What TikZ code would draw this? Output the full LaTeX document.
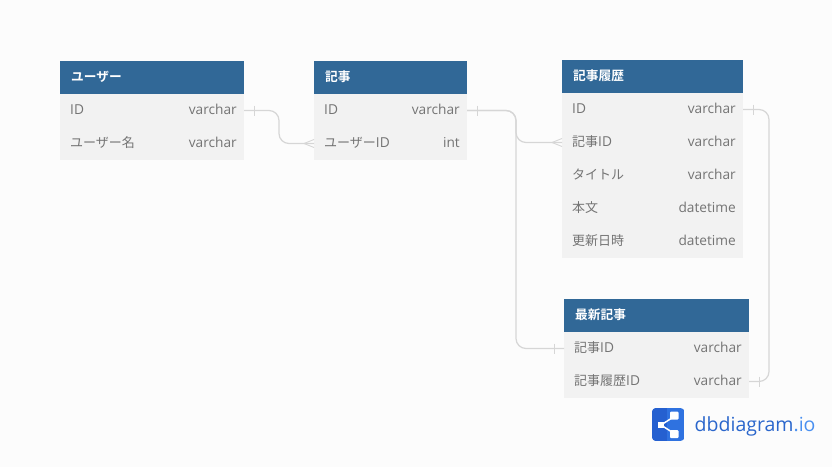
\documentclass[tikz,border=0pt]{standalone}
\usepackage{fontspec}
\setmainfont{Open Sans}
\newfontfamily\cjk{Noto Sans CJK JP}
\newfontfamily\cjkb{Noto Sans CJK JP}[BoldFont={Noto Sans CJK JP Bold}]
\usetikzlibrary{calc}
\definecolor{pagebg}{HTML}{FCFCFC}
\definecolor{headblue}{HTML}{316897}
\definecolor{rowgrey}{HTML}{F2F2F2}
\definecolor{txtgrey}{HTML}{747474}
\definecolor{linkgrey}{HTML}{D6D6D6}
\definecolor{logoA}{HTML}{2560D0}
\definecolor{logoB}{HTML}{2F72E0}
\definecolor{logotxt}{HTML}{2A66CC}
\definecolor{logotxtB}{HTML}{4A90F0}
\tikzset{
  headbox/.style={fill=headblue,anchor=north west,minimum height=33pt,inner sep=0pt,outer sep=0pt},
  rowbox/.style={fill=rowgrey,anchor=north west,minimum height=33pt,inner sep=0pt,outer sep=0pt},
  headtxt/.style={text=white,anchor=west,inner sep=0pt,font=\fontsize{12.7}{14}\selectfont\cjkb\bfseries},
  lefttxt/.style={text=txtgrey,anchor=west,inner sep=0pt,font=\fontsize{13.7}{15}\selectfont},
  righttxt/.style={text=txtgrey,anchor=east,inner sep=0pt,font=\fontsize{13.7}{15}\selectfont},
  link/.style={draw=linkgrey,line width=1.2pt,rounded corners=10pt},
  tick/.style={draw=linkgrey,line width=0.9pt},
}
\newcommand{\J}[1]{{\fontsize{13}{15}\selectfont\cjk #1}}
% name, x, y(top), width, text
\newcommand{\headT}[5]{%
  \node[headbox,minimum width=#4 pt] (#1) at (#2,#3) {};
  \node[headtxt] (#1t) at ($(#1.west)+(11,-1)$) {#5};}
% name, x, y(top), width, left, right
\newcommand{\rowT}[6]{%
  \node[rowbox,minimum width=#4 pt] (#1) at (#2,#3) {};
  \node[lefttxt] (#1l) at ($(#1.west)+(10,-1)$) {#5};
  \node[righttxt] (#1r) at ($(#1.east)+(-7,-1)$) {#6};}
\begin{document}
\begin{tikzpicture}[x=1pt,y=-1pt]
\useasboundingbox[fill=pagebg] (0,0) rectangle (832,467);
% users
\headT{u}{60}{61}{184}{ユーザー}
\rowT{uid}{60}{94}{184}{ID}{varchar}
\rowT{uname}{60}{127}{184}{\J{ユーザー名}}{varchar}
% posts
\headT{p}{314}{61}{153}{記事}
\rowT{pid}{314}{94}{153}{ID}{varchar}
\rowT{puser}{314}{127}{153}{\J{ユーザー}ID}{int}
% history
\headT{h}{562}{60}{181}{記事履歴}
\rowT{hid}{562}{93}{181}{ID}{varchar}
\rowT{hpost}{562}{126}{181}{\J{記事}ID}{varchar}
\rowT{htitle}{562}{159}{181}{\J{タイトル}}{varchar}
\rowT{hbody}{562}{192}{181}{\J{本文}}{datetime}
\rowT{hdate}{562}{225}{181}{\J{更新日時}}{datetime}
% latest
\headT{l}{564}{299}{185}{最新記事}
\rowT{lpost}{564}{332}{185}{\J{記事}ID}{varchar}
\rowT{lhist}{564}{365}{185}{\J{記事履歴}ID}{varchar}
% connectors
\coordinate (c1) at (279,0);
\coordinate (c2) at (516,0);
\coordinate (c3) at (769,0);
\draw[link] (uid.east) -| (c1 |- puser.west) -- (puser.west);
\draw[link] (pid.east) -| (c2 |- hpost.west) -- (hpost.west);
\draw[link] (pid.east) -| (c2 |- lpost.west) -- (lpost.west);
\draw[link] (hid.east) -| (c3 |- lhist.east) -- (lhist.east);
% one-side ticks
\foreach \n/\d in {uid.east/10,pid.east/10,hid.east/10,lhist.east/10,lpost.west/-10}{
  \draw[tick] ($(\n)+(\d,-5)$) -- ($(\n)+(\d,5)$);
}
% crow's feet
\foreach \n in {puser,hpost}{
  \draw[tick] ($(\n.west)+(-10,0)$) -- ($(\n.west)+(0,-4)$);
  \draw[tick] ($(\n.west)+(-10,0)$) -- ($(\n.west)+(0,4)$);
}
% logo
\begin{scope}
  \clip[rounded corners=4pt] (652,408) rectangle (684.5,441);
  \fill[logoB] (652,408) rectangle (684.5,441);
  \fill[logoA] (652,408) rectangle (667,441);
\end{scope}
\draw[white,line width=1.5pt] (661,425) -- (675,416) (661,425) -- (675,434);
\fill[white] (657.5,421.5) rectangle (664,428);
\fill[white,rounded corners=1pt] (670,411.5) rectangle (678.5,419.5);
\fill[white,rounded corners=1pt] (670,430) rectangle (678.5,438);
\node[anchor=base west,inner sep=0pt,font=\fontsize{19.5}{22}\selectfont,text=logotxt] (brand) at (694.5,431.5) {dbdiagram\textcolor{logotxtB}{.io}};
\end{tikzpicture}
\end{document}
